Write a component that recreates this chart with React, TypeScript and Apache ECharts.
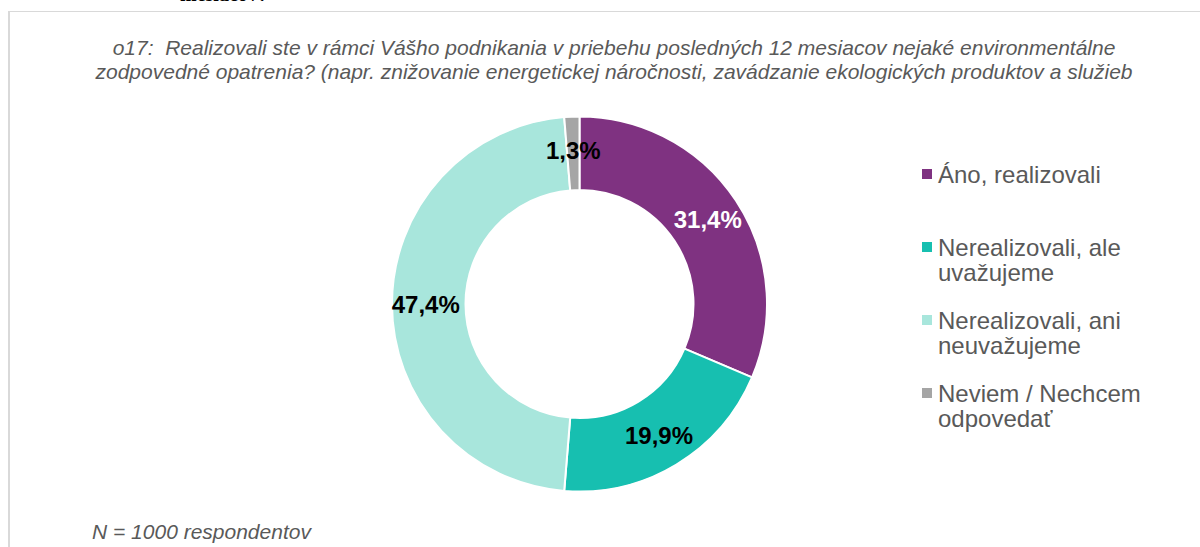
import React, { useEffect, useRef } from 'react';
import * as echarts from 'echarts';

const categories = ['Áno, realizovali', 'Nerealizovali, ale uvažujeme', 'Nerealizovali, ani neuvažujeme', 'Neviem / Nechcem odpovedať'];
const legendLines = [['Áno, realizovali'], ['Nerealizovali, ale', 'uvažujeme'], ['Nerealizovali, ani', 'neuvažujeme'], ['Neviem / Nechcem', 'odpovedať']];
const values = [31.4, 19.9, 47.4, 1.3];
const colors = ['#7F3281', '#17BFB0', '#A8E6DC', '#A5A5A5'];
const labelColors = ['#FFFFFF', '#000000', '#000000', '#000000'];
const titleLines = [
  'o17:  Realizovali ste v rámci Vášho podnikania v priebehu posledných 12 mesiacov nejaké environmentálne',
  'zodpovedné opatrenia? (napr. znižovanie energetickej náročnosti, zavádzanie ekologických produktov a služieb',
];
const footnote = 'N = 1000 respondentov';
const cutText = 'mesiacov?';

const FONT = '"Liberation Sans", Arial, sans-serif';

export default function App() {
  const ref = useRef<HTMLDivElement>(null);
  useEffect(() => {
    if (!ref.current) return;
    const chart = echarts.init(ref.current, undefined, { renderer: 'svg' });
    const graphics: any[] = [];
    // frame
    graphics.push({ type: 'line', shape: { x1: 8, y1: 11.5, x2: 1200, y2: 11.5 }, style: { stroke: '#d9d9d9', lineWidth: 1 } });
    graphics.push({ type: 'line', shape: { x1: 9, y1: 11, x2: 9, y2: 547 }, style: { stroke: '#d9d9d9', lineWidth: 2 } });
    // cut-off text at top (partially visible in the original)
    graphics.push({ type: 'text', x: 180, y: -16, style: { text: cutText, font: 'bold 20px "Liberation Serif", serif', fill: '#000', verticalAlign: 'top' } });
    // title
    titleLines.forEach((t, i) => {
      graphics.push({ type: 'text', x: 614, y: 47 + i * 24, style: { text: t, font: `italic 21px ${FONT}`, fill: '#595959', align: 'center', verticalAlign: 'middle' } });
    });
    // footnote
    graphics.push({ type: 'text', x: 92, y: 531, style: { text: footnote, font: `italic 21px ${FONT}`, fill: '#595959', align: 'left', verticalAlign: 'middle' } });
    // legend
    legendLines.forEach((lines, i) => {
      const cy = 174 + i * 73;
      graphics.push({ type: 'rect', shape: { x: 922, y: cy - 5, width: 10, height: 10 }, style: { fill: colors[i] } });
      lines.forEach((ln, j) => {
        graphics.push({ type: 'text', x: 938, y: cy + j * 25, style: { text: ln, font: `24px ${FONT}`, fill: '#595959', align: 'left', verticalAlign: 'middle' } });
      });
    });

    chart.setOption({
      animation: false,
      backgroundColor: '#ffffff',
      graphic: graphics,
      series: [
        {
          type: 'pie',
          center: [579.5, 304],
          radius: [114, 187.5],
          startAngle: 90,
          clockwise: true,
          avoidLabelOverlap: false,
          itemStyle: { borderColor: '#ffffff', borderWidth: 2 },
          label: {
            show: true,
            position: 'inside',
            fontFamily: FONT,
            fontWeight: 'bold',
            fontSize: 24,
            formatter: (p: any) => p.value.toFixed(1).replace('.', ',') + '%',
          },
          labelLine: { show: false },
          emphasis: { disabled: true },
          data: categories.map((name, i) => ({
            name,
            value: values[i],
            itemStyle: { color: colors[i] },
            label: { color: labelColors[i] },
          })),
        },
      ],
    });
    return () => chart.dispose();
  }, []);
  return <div ref={ref} style={{ position: 'fixed', left: 0, top: 0, width: 1200, height: 547 }} />;
}
